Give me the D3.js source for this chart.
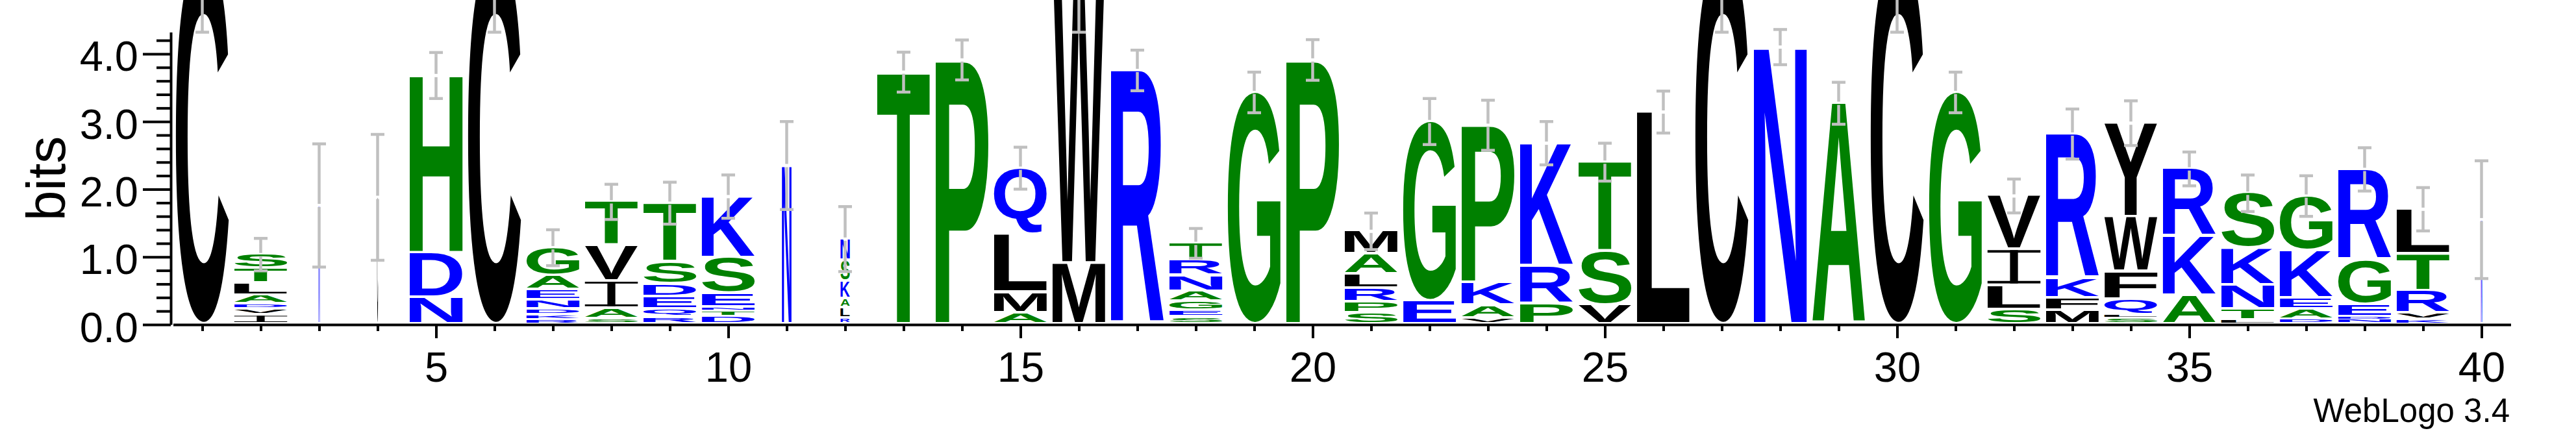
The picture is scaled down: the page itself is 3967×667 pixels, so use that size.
<!DOCTYPE html>
<html>
<head>
<meta charset="utf-8">
<script src="https://cdn.jsdelivr.net/npm/d3@7"></script>
<style>
html, body { margin: 0; background: #fff; }
svg { display: block; }
</style>
</head>
<body>
<svg id="logo" width="3967" height="667"></svg>
<script>
// Sequence positions
const positions = [1, 2, 3, 4, 5, 6, 7, 8, 9, 10, 11, 12, 13, 14, 15, 16, 17, 18, 19, 20,
                   21, 22, 23, 24, 25, 26, 27, 28, 29, 30, 31, 32, 33, 34, 35, 36, 37, 38, 39, 40];

// Letters of each stack, from top to bottom
const stackLetters = ["C", "STLADVI", "N", "C", "HDN", "C", "GAENDKR", "TVIAS", "TSDEQR", "KSENTD",
                      "N", "NSKALR", "T", "P", "QLMA", "WM", "R", "TRNAGES", "G", "P",
                      "MALRPS", "GE", "PKAV", "KRP", "TSV", "L", "C", "N", "A", "C",
                      "G", "VILS", "RKFM", "YWFQLS", "RKA", "SKNTL", "GKEAD", "RGEDN", "LTRVK", "N"];

// Height of each letter in bits, same order
const stackBits = [
    [5.47], [0.208, 0.224, 0.179, 0.130, 0.074, 0.089, 0.13], [1.76], [1.88], [2.63, 0.66, 0.39],
    [5.47], [0.42, 0.21, 0.153, 0.134, 0.086, 0.073, 0.06], [0.65, 0.53, 0.40, 0.153, 0.08],
    [0.87, 0.33, 0.19, 0.18, 0.12, 0.104], [0.91, 0.53, 0.20, 0.058, 0.086, 0.107],
    [2.35], [0.32, 0.31, 0.26, 0.135, 0.15, 0.088], [3.73], [3.91], [0.98, 0.865, 0.30, 0.166],
    [4.57, 0.90], [3.755], [0.256, 0.23, 0.233, 0.144, 0.134, 0.099, 0.104], [3.43], [3.91],
    [0.345, 0.30, 0.206, 0.204, 0.163, 0.16], [2.66, 0.34], [2.33, 0.34, 0.19, 0.085],
    [1.82, 0.56, 0.30], [1.32, 0.80, 0.28], [3.14], [5.47], [4.10], [3.27], [5.47],
    [3.43], [0.80, 0.53, 0.36, 0.21], [2.14, 0.29, 0.185, 0.20], [1.39, 0.81, 0.41, 0.23, 0.048, 0.088],
    [1.0, 0.88, 0.42], [0.82, 0.54, 0.36, 0.16, 0.06], [0.815, 0.70, 0.16, 0.153, 0.071],
    [1.34, 0.66, 0.19, 0.035, 0.068], [0.67, 0.54, 0.33, 0.10, 0.064], [1.55]
];

// Fraction of sequences with a residue (stack width)
const stackWidths = [1, 1, 0.022, 0.018, 1, 1, 1, 1, 1, 1, 0.18, 0.175, 1, 1, 1, 1, 1, 1, 1, 1,
                     1, 1, 1, 1, 1, 1, 1, 1, 1, 1, 1, 1, 1, 1, 1, 1, 1, 1, 1, 0.025];

// Error bar half length in bits
const errorBits = [1.15, 0.24, 0.91, 0.93, 0.34, 1.15, 0.265, 0.26, 0.31, 0.32,
                   0.65, 0.48, 0.295, 0.295, 0.31, 1.15, 0.30, 0.22, 0.30, 0.30,
                   0.27, 0.34, 0.37, 0.32, 0.28, 0.31, 1.15, 0.26, 0.31, 1.15,
                   0.30, 0.25, 0.37, 0.33, 0.25, 0.27, 0.30, 0.32, 0.32, 0.87];

const yTicks = [0, 1, 2, 3, 4];
const xTicks = [5, 10, 15, 20, 25, 30, 35, 40];

const greenLetters = "GSTAPH";
const blueLetters = "DENQKR";

function colorOf(ch) {
    if (greenLetters.includes(ch)) return "#008000";
    if (blueLetters.includes(ch)) return "#0000ff";
    return "#000000";
}

const svg = d3.select('#logo');
const fontFamily = "'Liberation Sans', Arial, Helvetica, sans-serif";
const x = d3.scaleLinear().domain([0.5, 40.5]).range([266.5, 3866.5]);
const y = d3.scaleLinear().domain([0, 4.32]).range([500, 49.6]);
const colW = 81.5;

// measure tight glyph boxes so every letter can be stretched to its cell
const ctx = document.createElement('canvas').getContext('2d');
ctx.font = "bold 200px 'Liberation Sans'";
const glyphBox = {};
function measure(ch) {
    if (!glyphBox[ch]) {
        const m = ctx.measureText(ch);
        glyphBox[ch] = {
            l: m.actualBoundingBoxLeft, r: m.actualBoundingBoxRight,
            a: m.actualBoundingBoxAscent, d: m.actualBoundingBoxDescent
        };
    }
    return glyphBox[ch];
}

function drawLetter(g, ch, x0, y0, w, h) {
    const col = colorOf(ch);
    if (ch === "I") {
        // serif I as drawn by WebLogo
        const t = Math.max(1, h * 0.075);
        const sw = w * 0.15;
        g.append('rect').attr('x', x0).attr('y', y0).attr('width', w).attr('height', t).attr('fill', col);
        g.append('rect').attr('x', x0).attr('y', y0 + h - t).attr('width', w).attr('height', t).attr('fill', col);
        g.append('rect').attr('x', x0 + (w - sw) / 2).attr('y', y0).attr('width', sw).attr('height', h).attr('fill', col);
        return;
    }
    const b = measure(ch);
    const gw = b.l + b.r, gh = b.a + b.d;
    g.append('text')
        .attr('transform', 'translate(' + x0 + ',' + y0 + ') scale(' + (w / gw) + ',' + (h / gh) + ')')
        .attr('x', b.l)
        .attr('y', b.a)
        .attr('font-family', fontFamily)
        .attr('font-weight', 'bold')
        .attr('font-size', 200)
        .attr('fill', col)
        .text(ch);
}

// Stacks
const letters = svg.append('g');
positions.forEach((p, i) => {
    const w = colW * stackWidths[i];
    const x0 = x(p) - w / 2;
    const ls = stackLetters[i].split('');
    const bs = stackBits[i];
    let base = 0;
    for (let k = ls.length - 1; k >= 0; k--) {
        const yb = y(base), yt = y(base + bs[k]);
        const boxH = yb - yt;
        const gap = Math.min(4, boxH * 0.5);
        drawLetter(letters, ls[k], x0, yt, w, boxH - gap);
        base += bs[k];
    }
});

// Error bars
const eb = svg.append('g').attr('stroke', '#c0c0c0').attr('stroke-width', 4.5).attr('fill', 'none');
positions.forEach((p, i) => {
    const top = d3.sum(stackBits[i]);
    const cx = x(p);
    const y1 = y(top + errorBits[i]), y2 = y(top - errorBits[i]), yc = y(top);
    eb.append('line').attr('x1', cx).attr('x2', cx).attr('y1', y1).attr('y2', yc - 2.5);
    eb.append('line').attr('x1', cx).attr('x2', cx).attr('y1', yc + 2.5).attr('y2', y2);
    eb.append('line').attr('x1', cx - 10.5).attr('x2', cx + 10.5).attr('y1', y1).attr('y2', y1);
    eb.append('line').attr('x1', cx - 10.5).attr('x2', cx + 10.5).attr('y1', y2).attr('y2', y2);
});

// Y axis
const yAxisX = x(0.5) - 3.5;
const yMinor = d3.range(1, 22).map(d => d / 5).filter(d => Math.abs(d - Math.round(d)) > 1e-6);
svg.append('g')
    .attr('transform', 'translate(' + yAxisX + ',0)')
    .call(d3.axisLeft(y).tickValues(yMinor).tickSize(22).tickSizeOuter(0).tickFormat(''))
    .call(g => g.select('.domain').remove())
    .call(g => g.selectAll('line').attr('stroke-width', 4));

const yAxis = svg.append('g')
    .attr('transform', 'translate(' + yAxisX + ',0)')
    .call(d3.axisLeft(y).tickValues(yTicks).tickFormat(d3.format('.1f')).tickSize(43).tickSizeOuter(0).tickPadding(7));
yAxis.selectAll('path, line').attr('stroke-width', 4);
yAxis.selectAll('text').attr('font-family', fontFamily).attr('font-size', 65).attr('dy', '0.4em');

// X axis
svg.append('g')
    .attr('transform', 'translate(0,500)')
    .call(d3.axisBottom(x).tickValues(positions).tickSize(10).tickSizeOuter(0).tickFormat(''))
    .call(g => g.selectAll('path, line').attr('stroke-width', 4));

const xAxis = svg.append('g')
    .attr('transform', 'translate(0,500)')
    .call(d3.axisBottom(x).tickValues(xTicks).tickSize(21).tickSizeOuter(0).tickPadding(21));
xAxis.select('.domain').remove();
xAxis.selectAll('line').attr('stroke-width', 4);
xAxis.selectAll('text').attr('font-family', fontFamily).attr('font-size', 65);

// Labels
svg.append('text')
    .attr('transform', 'translate(100,275) rotate(-90)')
    .attr('text-anchor', 'middle')
    .attr('font-family', fontFamily)
    .attr('font-size', 84)
    .text('bits');

svg.append('text')
    .attr('x', 3865)
    .attr('y', 650)
    .attr('text-anchor', 'end')
    .attr('font-family', fontFamily)
    .attr('font-size', 51)
    .text('WebLogo 3.4');
</script>
</body>
</html>
